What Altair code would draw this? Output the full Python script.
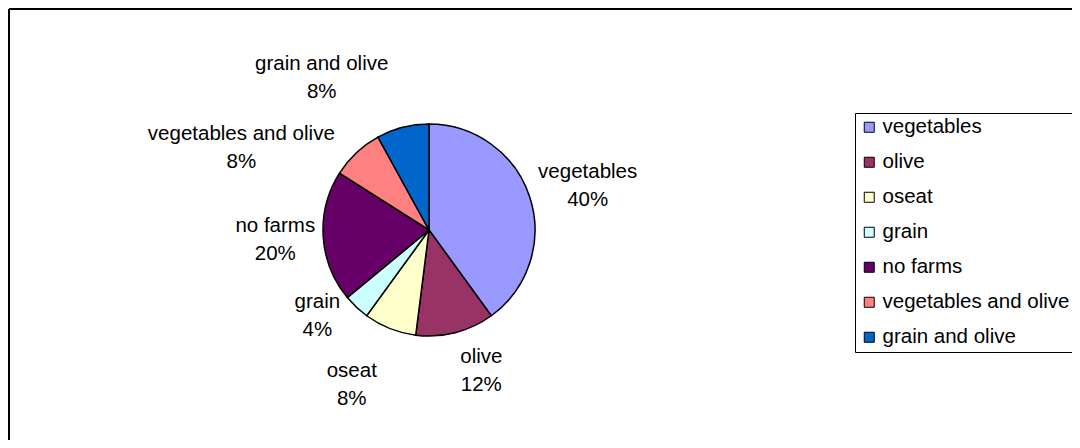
import altair as alt
import pandas as pd

# ---- data ----
categories = ["vegetables", "olive", "oseat", "grain", "no farms",
              " vegetables and olive", "grain and olive"]
values = [40, 12, 8, 4, 20, 8, 8]
percent_labels = ["40%", "12%", "8%", "4%", "20%", "8%", "8%"]
colors = ["#9999FF", "#993366", "#FFFFCC", "#CCFFFF", "#660066",
          "#FF8080", "#0066CC"]

df = pd.DataFrame({
    "category": categories,
    "value": values,
    "pct": percent_labels,
    "order": list(range(len(categories))),
})
df["label"] = [c.strip() + "\n" + p for c, p in zip(categories, percent_labels)]
total = sum(values)

# ---- styling / layout ----
FONT = "Liberation Sans"
FS = 20.5
LINE_H = 28
W, H = 1063, 431
CX, CY, R = 420, 221, 106
LABEL_R = 150
# per-label nudges (Excel best-fit placement), in pixels
nudges = {
    "vegetables": (16, 2),
    "olive": (15, -4),
    "oseat": (-22, 16),
    "grain": (-9, -23),
    "no farms": (-4, 1),
    " vegetables and olive": (-85, 27),
    "grain and olive": (-70, -7),
}

theta_scale = alt.Scale(domain=[0, total])

base = alt.Chart(df).transform_stack(
    stack="value", groupby=[], as_=["v0", "v1"],
    sort=[alt.SortField("order", order="ascending")],
)

legend = alt.Legend(
    title=None, orient="none", legendX=846, legendY=104,
    symbolType="square", symbolSize=100, symbolStrokeColor="black",
    symbolStrokeWidth=1, symbolOpacity=1,
    labelFont=FONT, labelFontSize=FS, labelColor="black", labelLimit=400,
    labelOffset=3, rowPadding=14, padding=4,
    strokeColor="black", fillColor="white",
    labelExpr="(substring(datum.label,0,1) == ' ' ? '\u00a0' : '') + trim(datum.label)",
)

arcs = base.mark_arc(outerRadius=R, stroke="black", strokeWidth=1.5).encode(
    theta=alt.Theta("v0:Q", scale=theta_scale),
    theta2="v1:Q",
    x=alt.value(CX),
    y=alt.value(CY),
    color=alt.Color("category:N",
                    scale=alt.Scale(domain=categories, range=colors),
                    legend=legend),
)

# chart-area frame: only left and top edges fall inside the picture
frame_left = alt.Chart(df).mark_rule(color="black", strokeWidth=2).encode(
    x=alt.value(0), y=alt.value(0), y2=alt.value(H + 10))
frame_top = alt.Chart(df).mark_rule(color="black", strokeWidth=2).encode(
    x=alt.value(0), x2=alt.value(W + 10), y=alt.value(0))

layers = [frame_left, frame_top, arcs]
for cat in categories:
    dx, dy = nudges[cat]
    layers.append(
        base.transform_calculate(mid="(datum.v0 + datum.v1) / 2")
        .transform_filter(alt.datum.category == cat)
        .mark_text(font=FONT, fontSize=FS, color="black", lineBreak="\n",
                   lineHeight=LINE_H, align="center", baseline="middle",
                   dx=dx, dy=dy - LINE_H / 2)
        .encode(
            theta=alt.Theta("mid:Q", scale=theta_scale),
            radius=alt.value(LABEL_R),
            x=alt.value(CX),
            y=alt.value(CY),
            text="label:N",
        )
    )

chart = alt.layer(*layers).properties(
    width=W, height=H,
    autosize="none",
    padding={"left": 1, "top": 1, "right": 0, "bottom": 0},
    background="white",
).configure_view(strokeWidth=0)

chart.save("out.html", embed_options={"renderer": "svg", "actions": False})
